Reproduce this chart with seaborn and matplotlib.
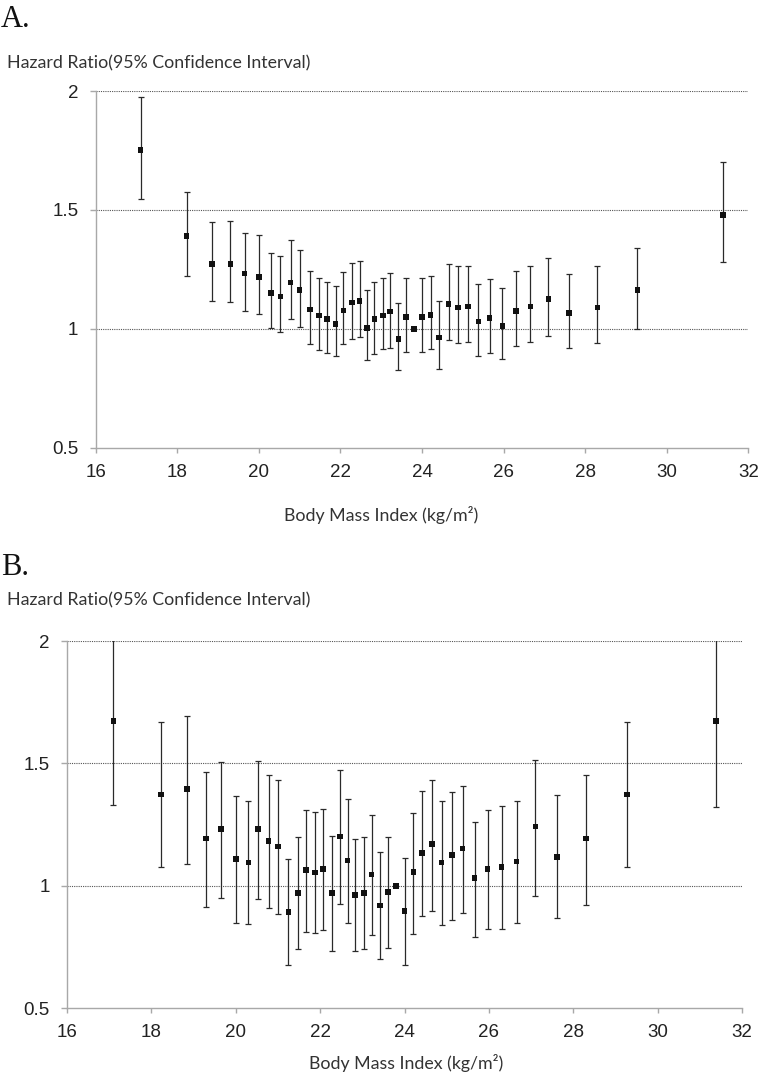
import numpy as np
import pandas as pd
import matplotlib
matplotlib.use("Agg")
import matplotlib.pyplot as plt
import seaborn as sns

# BMI category midpoints (shared by both panels)
bmi = [17.1, 18.23, 18.85, 19.3, 19.65, 20.0, 20.3, 20.53, 20.78, 21.0,
       21.25, 21.48, 21.67, 21.88, 22.07, 22.28, 22.47, 22.65, 22.83, 23.04,
       23.22, 23.42, 23.61, 23.8, 24.0, 24.21, 24.42, 24.65, 24.88, 25.13,
       25.38, 25.66, 25.97, 26.3, 26.66, 27.1, 27.61, 28.3, 29.28, 31.38]

# panel A
hr_a = [1.751, 1.390, 1.272, 1.272, 1.232, 1.218, 1.150, 1.136, 1.195, 1.164,
        1.081, 1.055, 1.041, 1.021, 1.077, 1.110, 1.118, 1.004, 1.041, 1.055,
        1.073, 0.958, 1.049, 1.0, 1.049, 1.058, 0.963, 1.104, 1.090, 1.094,
        1.031, 1.045, 1.011, 1.076, 1.094, 1.126, 1.067, 1.090, 1.163, 1.478]
lo_a = [1.546, 1.222, 1.118, 1.114, 1.073, 1.063, 1.003, 0.986, 1.041, 1.007,
        0.935, 0.909, 0.899, 0.885, 0.935, 0.959, 0.966, 0.867, 0.895, 0.913,
        0.921, 0.826, 0.903, np.nan, 0.903, 0.913, 0.830, 0.954, 0.940, 0.944,
        0.885, 0.899, 0.871, 0.926, 0.944, 0.971, 0.921, 0.940, 1.001, 1.281]
up_a = [1.973, 1.576, 1.449, 1.454, 1.404, 1.395, 1.317, 1.305, 1.372, 1.331,
        1.244, 1.213, 1.198, 1.181, 1.239, 1.277, 1.285, 1.163, 1.198, 1.213,
        1.236, 1.110, 1.213, np.nan, 1.213, 1.222, 1.117, 1.272, 1.263, 1.263,
        1.190, 1.208, 1.171, 1.244, 1.264, 1.298, 1.232, 1.263, 1.340, 1.701]

# panel B
hr_b = [1.673, 1.374, 1.396, 1.193, 1.232, 1.110, 1.096, 1.232, 1.183, 1.161,
        0.893, 0.972, 1.065, 1.055, 1.069, 0.972, 1.201, 1.104, 0.963, 0.972,
        1.047, 0.919, 0.976, 1.0, 0.897, 1.057, 1.134, 1.171, 1.096, 1.126,
        1.153, 1.031, 1.069, 1.078, 1.100, 1.242, 1.118, 1.193, 1.374, 1.673]
lo_b = [1.330, 1.077, 1.091, 0.915, 0.950, 0.848, 0.844, 0.946, 0.911, 0.884,
        0.677, 0.742, 0.813, 0.809, 0.821, 0.734, 0.927, 0.848, 0.734, 0.742,
        0.801, 0.703, 0.748, np.nan, 0.677, 0.805, 0.876, 0.897, 0.839, 0.862,
        0.888, 0.793, 0.822, 0.822, 0.848, 0.959, 0.867, 0.923, 1.077, 1.321]
up_b = [2.10, 1.669, 1.695, 1.466, 1.504, 1.366, 1.348, 1.510, 1.453, 1.431,
        1.108, 1.201, 1.308, 1.303, 1.315, 1.205, 1.475, 1.355, 1.193, 1.201,
        1.289, 1.137, 1.201, np.nan, 1.112, 1.298, 1.386, 1.434, 1.348, 1.382,
        1.409, 1.262, 1.311, 1.325, 1.347, 1.515, 1.370, 1.453, 1.669, 2.10]

x_ticks = [16, 18, 20, 22, 24, 26, 28, 30, 32]
y_ticks = [0.5, 1, 1.5, 2]
y_ticklabels = ["0.5", "1", "1.5", "2"]

sns.set_style("white")
plt.rcParams['font.family'] = ['Liberation Sans', 'DejaVu Sans']

W, H = 761, 1074
fig = plt.figure(figsize=(W / 100, H / 100), dpi=100)


def px_box(left, right, top, bottom):
    return [left / W, 1 - bottom / H, (right - left) / W, (bottom - top) / H]


def draw_panel(ax, hr, lo, up):
    df = pd.DataFrame({'bmi': bmi, 'hr': hr, 'lo': lo, 'up': up})
    ci = df.dropna()
    ax.errorbar(ci['bmi'], ci['hr'], yerr=[ci['hr'] - ci['lo'], ci['up'] - ci['hr']],
                fmt='none', ecolor='#2a2a2a', elinewidth=0.9, capsize=2.3,
                capthick=0.9, zorder=2)
    sns.scatterplot(data=df, x='bmi', y='hr', marker='s', s=16, color='#111111',
                    edgecolor='none', ax=ax, zorder=3, legend=False)
    ax.set_xlim(16, 32)
    ax.set_ylim(0.5, 2)
    ax.set_xticks(x_ticks)
    ax.set_yticks(y_ticks)
    ax.set_yticklabels(y_ticklabels)
    ax.set_xlabel('')
    ax.set_ylabel('')
    ax.yaxis.grid(True, linestyle=(0, (1, 1)), color='#555555', linewidth=0.8)
    ax.get_ygridlines()[0].set_visible(False)
    ax.set_axisbelow(True)
    for side in ['top', 'right']:
        ax.spines[side].set_visible(False)
    for side in ['left', 'bottom']:
        ax.spines[side].set_color('#a8a8a8')
        ax.spines[side].set_linewidth(1.0)
    ax.tick_params(axis='x', direction='out', length=3.5, width=1.0,
                   color='#a8a8a8', labelsize=13.5, labelcolor='#222222', pad=8)
    ax.tick_params(axis='y', direction='out', length=4, width=1.0,
                   color='#a8a8a8', labelsize=13.5, labelcolor='#222222', pad=8.5)
    ax.tick_params(axis='x', bottom=True)
    ax.tick_params(axis='y', left=True)


ax_a = fig.add_axes(px_box(95.7, 748.3, 91, 447.7))
draw_panel(ax_a, hr_a, lo_a, up_a)
ax_b = fig.add_axes(px_box(67, 742, 641, 1008.3))
draw_panel(ax_b, hr_b, lo_b, up_b)

label_font = ['Lato', 'DejaVu Sans']
for letter, ly, ty, xl_x, xl_y in [('A.', 27, 68, 381, 521), ('B.', 575, 605, 406.5, 1069)]:
    fig.text(1 / W, 1 - ly / H, letter, family=['Liberation Serif'], fontsize=22,
             va='baseline', ha='left', color='#111111')
    fig.text(7 / W, 1 - ty / H, 'Hazard Ratio(95% Confidence Interval)',
             family=label_font, fontsize=12.8, va='baseline', ha='left', color='#333333')
    fig.text(xl_x / W, 1 - xl_y / H, 'Body Mass Index (kg/m²)',
             family=label_font, fontsize=12.8, va='baseline', ha='center', color='#333333')

fig.savefig('out.png', dpi=100)
